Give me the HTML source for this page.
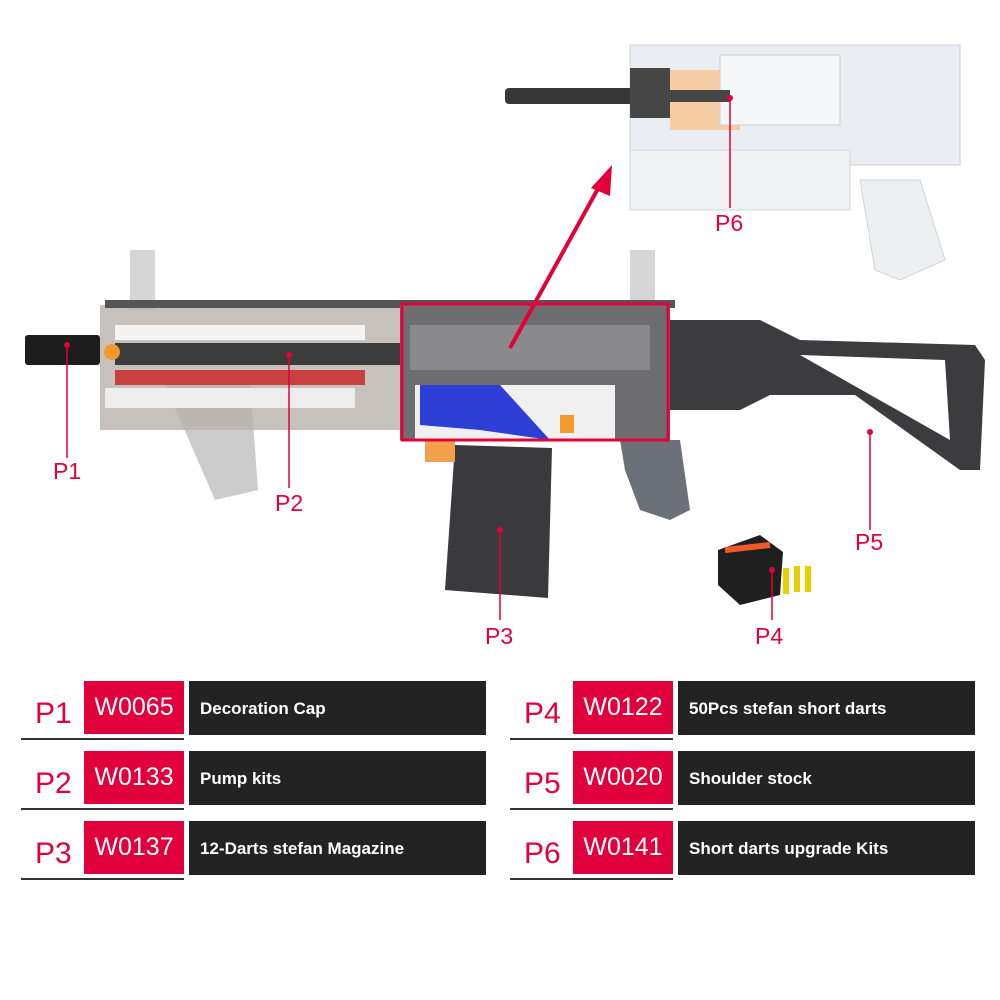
<!DOCTYPE html>
<html><head><meta charset="utf-8"><style>
body{margin:0;background:#fff;width:1000px;height:1000px;overflow:hidden;position:relative;font-family:"Liberation Sans",sans-serif}
.p{position:absolute;color:#e4003a;font-size:30px}
.red{position:absolute;width:100px;height:53px;background:#e0003c;color:#fff;font-size:25px;line-height:53px;text-align:center}
.dark{position:absolute;width:297px;height:54px;background:#232323;color:#fff;font-weight:bold;font-size:17px;line-height:56px;padding-left:11px;box-sizing:border-box}
.ul{position:absolute;height:2px;background:#333;width:163px}
</style></head><body>
<svg width="1000" height="670" style="position:absolute;left:0;top:0">
<g opacity="0.9">
<rect x="630" y="45" width="330" height="120" fill="#e8ecf0" stroke="#c8ccd0"/>
<rect x="630" y="150" width="220" height="60" fill="#eef0f2" stroke="#d0d4d8"/>
<polygon points="860,180 920,180 945,260 900,280 875,270" fill="#eceef0" stroke="#ccd"/>
<rect x="670" y="70" width="70" height="60" fill="#f6c89a"/>
<rect x="720" y="55" width="120" height="70" fill="#f4f6f8" stroke="#ccc"/>
<rect x="505" y="88" width="140" height="16" rx="4" fill="#222"/>
<rect x="630" y="68" width="40" height="50" fill="#333"/>
<rect x="670" y="90" width="60" height="12" fill="#333"/>
</g>
<polygon points="165,385 250,380 258,490 215,500" fill="#ccc"/>
<rect x="130" y="250" width="25" height="60" fill="#d6d6d6"/>
<rect x="630" y="250" width="25" height="60" fill="#d6d6d6"/>
<rect x="100" y="305" width="300" height="125" fill="#b8b2ad" opacity="0.8"/>
<rect x="105" y="300" width="570" height="8" fill="#555"/>
<rect x="115" y="325" width="250" height="15" fill="#f4f4f4"/>
<rect x="115" y="370" width="250" height="15" fill="#c84040"/>
<rect x="115" y="343" width="285" height="22" fill="#3c3c3c"/>
<rect x="105" y="388" width="250" height="20" fill="#eee"/>
<rect x="25" y="335" width="75" height="30" rx="3" fill="#1d1d1d"/>
<circle cx="112" cy="352" r="8" fill="#f39a2c"/>
<rect x="400" y="305" width="270" height="135" fill="#6e6e70"/>
<rect x="410" y="325" width="240" height="45" fill="#8a8a8c"/>
<rect x="415" y="385" width="200" height="55" fill="#f0f0f0"/>
<polygon points="420,385 500,385 550,440 480,430 420,425" fill="#2e3fd6"/>
<rect x="560" y="415" width="14" height="18" fill="#f39a2c"/>
<polygon points="620,440 680,440 690,510 670,520 640,510 625,470" fill="#6c7078"/>
<polygon points="670,320 760,320 800,340 975,345 985,360 980,470 960,470 855,395 770,395 740,410 670,410" fill="#3c3c3e"/>
<polygon points="800,355 945,360 950,440" fill="#fff"/>
<polygon points="455,445 552,448 548,598 445,590" fill="#3a3a3c"/>
<rect x="425" y="440" width="30" height="22" fill="#f3a04a"/>
<polygon points="718,550 760,535 783,552 780,595 740,605 718,585" fill="#1f1f1f"/>
<path d="M725,550 L770,545" stroke="#f05a2a" stroke-width="6"/>
<rect x="783" y="568" width="6" height="26" fill="#e8d000"/>
<rect x="794" y="566" width="6" height="26" fill="#e8d000"/>
<rect x="805" y="566" width="6" height="26" fill="#e8d000"/>
<rect x="402" y="304" width="266" height="136" fill="none" stroke="#e4003a" stroke-width="3"/>
<line x1="510" y1="348" x2="600" y2="185" stroke="#e4003a" stroke-width="4"/>
<polygon points="612,165 591,188 610,196" fill="#e4003a"/>
<g stroke="#e4003a" stroke-width="1.5">
<line x1="67" y1="345" x2="67" y2="458"/><line x1="289" y1="355" x2="289" y2="488"/>
<line x1="500" y1="530" x2="500" y2="620"/><line x1="772" y1="570" x2="772" y2="620"/>
<line x1="870" y1="432" x2="870" y2="530"/><line x1="730" y1="98" x2="730" y2="208"/>
</g>
<g fill="#e4003a"><circle cx="67" cy="345" r="3"/><circle cx="289" cy="355" r="3"/><circle cx="500" cy="530" r="3"/><circle cx="772" cy="570" r="3"/><circle cx="870" cy="432" r="3"/><circle cx="730" cy="98" r="3"/></g>
<g fill="#e4003a" font-family="Liberation Sans" font-size="23">
<text x="53" y="479">P1</text><text x="275" y="511">P2</text><text x="485" y="644">P3</text>
<text x="755" y="644">P4</text><text x="855" y="550">P5</text><text x="715" y="231">P6</text></g>
</svg>
<div class="p" style="left:35px;top:697px">P1</div><div class="red" style="left:84px;top:681px">W0065</div><div class="dark" style="left:189px;top:681px">Decoration Cap</div><div class="ul" style="left:21px;top:738px"></div>
<div class="p" style="left:35px;top:767px">P2</div><div class="red" style="left:84px;top:751px">W0133</div><div class="dark" style="left:189px;top:751px">Pump kits</div><div class="ul" style="left:21px;top:808px"></div>
<div class="p" style="left:35px;top:837px">P3</div><div class="red" style="left:84px;top:821px">W0137</div><div class="dark" style="left:189px;top:821px">12-Darts stefan Magazine</div><div class="ul" style="left:21px;top:878px"></div>
<div class="p" style="left:524px;top:697px">P4</div><div class="red" style="left:573px;top:681px">W0122</div><div class="dark" style="left:678px;top:681px">50Pcs stefan short darts</div><div class="ul" style="left:510px;top:738px"></div>
<div class="p" style="left:524px;top:767px">P5</div><div class="red" style="left:573px;top:751px">W0020</div><div class="dark" style="left:678px;top:751px">Shoulder stock</div><div class="ul" style="left:510px;top:808px"></div>
<div class="p" style="left:524px;top:837px">P6</div><div class="red" style="left:573px;top:821px">W0141</div><div class="dark" style="left:678px;top:821px">Short darts upgrade Kits</div><div class="ul" style="left:510px;top:878px"></div>
</body></html>
